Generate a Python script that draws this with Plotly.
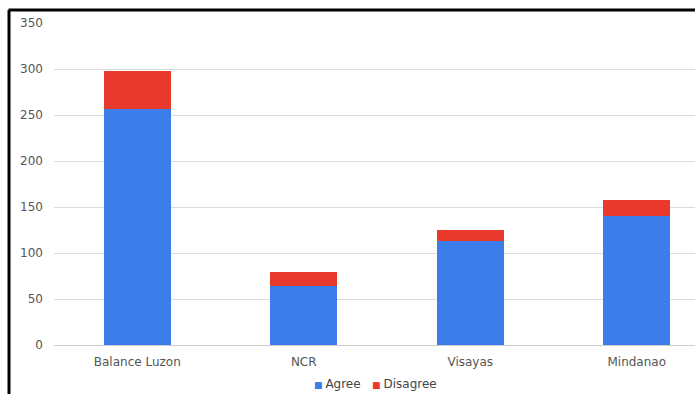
import plotly.graph_objects as go

# Survey responses by region
regions = ["Balance Luzon", "NCR", "Visayas", "Mindanao"]
agree = [256, 64, 113, 140]
disagree = [42, 15, 12, 18]
y_ticks = [0, 50, 100, 150, 200, 250, 300, 350]

BLUE = "#3b7de9"
RED = "#e9392c"
FAMILY = "DejaVu Sans, Verdana, sans-serif"

fig = go.Figure()
fig.add_trace(go.Bar(name="Agree", x=regions, y=agree,
                     marker=dict(color=BLUE, line=dict(width=0))))
fig.add_trace(go.Bar(name="Disagree", x=regions, y=disagree,
                     marker=dict(color=RED, line=dict(width=0))))

font = dict(family=FAMILY, size=12, color="#555555")

# compact legend line under the axis: small coloured square right before each name
legend_text = "   ".join(
    f'<span style="color:{tr.marker.color};font-size:9px">■ </span>{tr.name}'
    for tr in fig.data
)

fig.update_layout(
    barmode="stack",
    bargap=0.6,
    width=695,
    height=394,
    margin=dict(l=54, r=0, t=23, b=49),
    paper_bgcolor="white",
    plot_bgcolor="white",
    font=font,
    showlegend=False,
    xaxis=dict(
        range=[-0.5, 3.35],
        showgrid=False,
        showline=False,
        ticks="",
        ticklabelstandoff=8,
        tickfont=font,
    ),
    yaxis=dict(
        range=[0, 350],
        tickvals=y_ticks,
        showgrid=True,
        gridcolor="#dcdcdc",
        gridwidth=1,
        zeroline=True,
        zerolinecolor="#cccccc",
        zerolinewidth=1,
        showline=False,
        ticks="",
        ticklabelstandoff=10,
        tickfont=font,
    ),
    annotations=[
        dict(text=legend_text, xref="paper", yref="paper",
             x=0.502, y=-0.121, xanchor="center", yanchor="middle",
             showarrow=False, font=dict(family=FAMILY, size=12, color="#444444")),
    ],
    shapes=[
        # frame lines along the left and top edges of the page
        dict(type="line", xref="paper", yref="paper",
             x0=-45.5 / 641, x1=641 / 641 + 0.01, y0=(345 - 10) / 322, y1=(345 - 10) / 322,
             line=dict(color="black", width=3)),
        dict(type="line", xref="paper", yref="paper",
             x0=-45 / 641, x1=-45 / 641, y0=(345 - 10) / 322, y1=-49 / 322 - 0.01,
             line=dict(color="black", width=3)),
    ],
)

fig.write_html("out.html")
